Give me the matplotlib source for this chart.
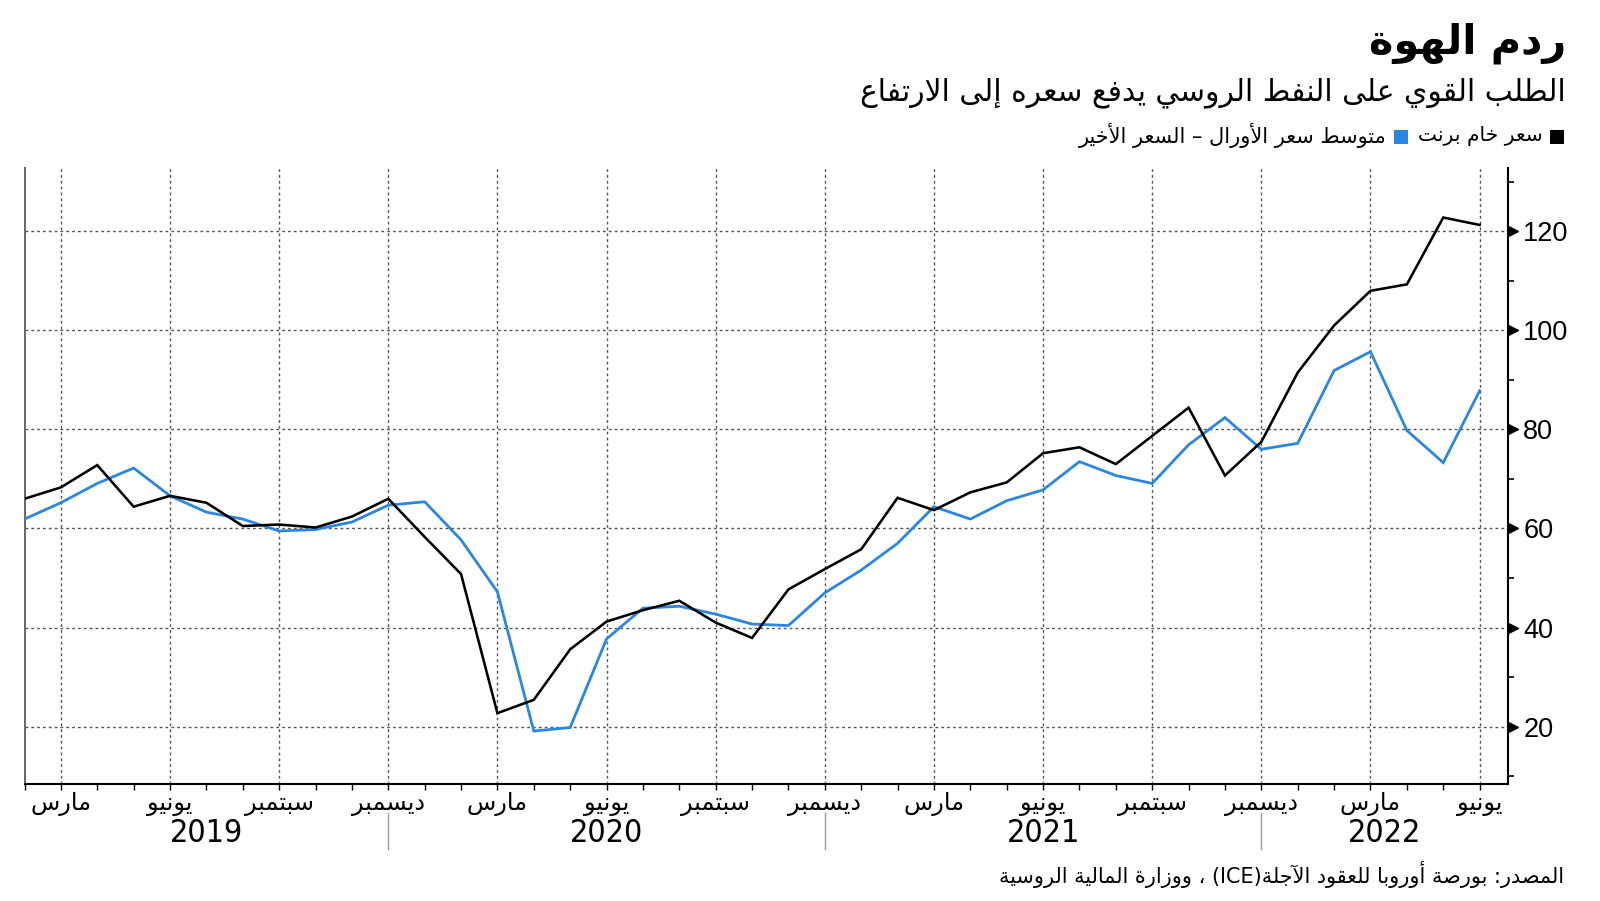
import numpy as np
import pandas as pd
import matplotlib
matplotlib.use("Agg")
import matplotlib.pyplot as plt
import matplotlib.transforms as mtransforms
from matplotlib.patches import Rectangle
from matplotlib.lines import Line2D
from matplotlib import font_manager as fm

# ---------------- data ----------------
start_month = "2019-02-01"
brent = [66.0, 68.3, 72.8, 64.4, 66.6, 65.2, 60.5, 60.8, 60.2, 62.4, 66.0,
         58.3, 50.8, 22.7, 25.4, 35.6, 41.2, 43.5, 45.4, 41.0, 37.9, 47.7, 51.8,
         55.8, 66.2, 63.7, 67.3, 69.3, 75.2, 76.4, 73.0, 78.7, 84.4, 70.7, 77.5,
         91.5, 101.0, 108.0, 109.3, 122.8, 121.3]
urals = [61.9, 65.2, 69.1, 72.2, 66.6, 63.3, 61.9, 59.5, 59.8, 61.3, 64.7,
         65.4, 57.7, 47.2, 19.1, 19.8, 37.7, 43.9, 44.3, 42.7, 40.7, 40.4, 47.0,
         51.6, 57.0, 64.4, 61.9, 65.6, 67.8, 73.5, 70.7, 69.1, 76.9, 82.4, 76.0,
         77.2, 91.9, 95.7, 79.8, 73.3, 87.8]
series_names = ["سعر خام برنت", "متوسط سعر الأورال – السعر الأخير"]
title_text = "ردم الهوة"
subtitle_text = "الطلب القوي على النفط الروسي يدفع سعره إلى الارتفاع"
source_text = "المصدر: بورصة أوروبا للعقود الآجلة(ICE) ، ووزارة المالية الروسية"
month_names = {3: "مارس", 6: "يونيو", 9: "سبتمبر", 12: "ديسمبر"}
y_major = [20, 40, 60, 80, 100, 120]
y_minor = [10, 30, 50, 70, 90, 110, 130]

BLACK = "#000000"
BLUE = "#2a86e0"
GRID = "#555555"

months = pd.date_range(start_month, periods=len(brent), freq="MS")

# ---------------- minimal Arabic shaping ----------------
DUAL = {'ئ': 0xFE89, 'ب': 0xFE8F, 'ت': 0xFE95, 'ث': 0xFE99, 'ج': 0xFE9D, 'ح': 0xFEA1,
        'خ': 0xFEA5, 'س': 0xFEB1, 'ش': 0xFEB5, 'ص': 0xFEB9, 'ض': 0xFEBD, 'ط': 0xFEC1,
        'ظ': 0xFEC5, 'ع': 0xFEC9, 'غ': 0xFECD, 'ف': 0xFED1, 'ق': 0xFED5, 'ك': 0xFED9,
        'ل': 0xFEDD, 'م': 0xFEE1, 'ن': 0xFEE5, 'ه': 0xFEE9, 'ي': 0xFEF1}
RIGHT = {'آ': 0xFE81, 'أ': 0xFE83, 'ؤ': 0xFE85, 'إ': 0xFE87, 'ا': 0xFE8D, 'ة': 0xFE93,
         'د': 0xFEA9, 'ذ': 0xFEAB, 'ر': 0xFEAD, 'ز': 0xFEAF, 'و': 0xFEED, 'ى': 0xFEEF}
LAMALEF = {'آ': 0xFEF5, 'أ': 0xFEF7, 'إ': 0xFEF9, 'ا': 0xFEFB}


def shape(s):
    toks = []
    i = 0
    while i < len(s):
        c = s[i]
        if c == 'ل' and i + 1 < len(s) and s[i + 1] in LAMALEF:
            toks.append(('R', LAMALEF[s[i + 1]]))
            i += 2
            continue
        if c in DUAL:
            toks.append(('D', DUAL[c]))
        elif c in RIGHT:
            toks.append(('R', RIGHT[c]))
        elif c == 'ء':
            toks.append(('N', 0xFE80))
        else:
            toks.append(('X', c))
        i += 1
    out = []
    for k, (t, v) in enumerate(toks):
        if t == 'X':
            out.append(v)
            continue
        if t == 'N':
            out.append(chr(v))
            continue
        prev = toks[k - 1][0] if k > 0 else 'X'
        nxt = toks[k + 1][0] if k + 1 < len(toks) else 'X'
        jp = prev == 'D'
        jn = (t == 'D') and nxt in ('D', 'R')
        if t == 'R':
            out.append(chr(v + 1 if jp else v))
        else:
            out.append(chr(v + (3 if (jp and jn) else 1 if jp else 2 if jn else 0)))
    return out


def rtl(s):
    chars = shape(s)
    runs = []
    for ch in chars:
        ltr = ch.isascii() and (ch.isalnum() or ch in "()")
        if runs and runs[-1][0] == ltr:
            runs[-1][1].append(ch)
        else:
            runs.append([ltr, [ch]])
    vis = []
    for ltr, cs in reversed(runs):
        vis.extend(cs if ltr else reversed(cs))
    return "".join(vis)


AR = ["DejaVu Sans"]
NUM = ["Liberation Sans", "DejaVu Sans"]

# pick a narrow face for the year labels if one is installed
year_kw = dict(fontfamily=["Liberation Sans", "DejaVu Sans"], fontsize=22)
found = False
try:
    p = fm.findfont(fm.FontProperties(family="Liberation Sans Narrow"), fallback_to_default=False)
    if "Narrow" in p:
        year_kw = dict(fontfamily=["Liberation Sans Narrow", "DejaVu Sans"], fontsize=25)
        found = True
except Exception:
    pass
if not found:
    try:
        p = fm.findfont(fm.FontProperties(family="DejaVu Sans", stretch="condensed"),
                        fallback_to_default=False)
        if "Condensed" in p:
            year_kw = dict(fontfamily=["DejaVu Sans"], fontstretch="condensed", fontsize=23)
    except Exception:
        pass

# ---------------- figure ----------------
W, H = 1600, 901
fig = plt.figure(figsize=(W / 100, H / 100), dpi=100)
fig.patch.set_facecolor("white")
ax_l, ax_r, ax_t, ax_b = 24.5, 1508.0, 168.0, 784.0
ax = fig.add_axes([ax_l / W, 1 - ax_b / H, (ax_r - ax_l) / W, (ax_b - ax_t) / H])

x = np.arange(len(months))
ax.plot(x, urals, color=BLUE, lw=2.0, zorder=3, solid_joinstyle="miter")
ax.plot(x, brent, color=BLACK, lw=1.85, zorder=4, solid_joinstyle="miter")

ax.set_xlim(0, 40.78)
ax.set_ylim(8.4, 132.8)

quarter_idx = [i for i, m in enumerate(months) if m.month in month_names]
for q in quarter_idx:
    ax.axvline(q, color=GRID, lw=1.0, ls=(0, (2, 2.2)), zorder=1)
for yv in y_major:
    ax.axhline(yv, color=GRID, lw=1.0, ls=(0, (2, 2.2)), zorder=1)

ax.spines["top"].set_visible(False)
ax.spines["left"].set_color("#666666")
ax.spines["left"].set_linewidth(1.4)
ax.spines["bottom"].set_linewidth(1.5)
ax.spines["right"].set_linewidth(1.5)

ax.set_xticks(quarter_idx)
ax.set_xticks(x, minor=True)
ax.set_xticklabels([])
ax.tick_params(axis="x", which="both", direction="out", length=4, width=1.0,
               bottom=True, top=False, labelbottom=False)

ax.yaxis.tick_right()
ax.set_yticks(y_major)
ax.set_yticks(y_minor, minor=True)
ax.set_yticklabels([str(v) for v in y_major], fontfamily=NUM, fontsize=19.5)
ax.tick_params(axis="y", which="major", length=0, pad=11, left=False, right=True)
ax.tick_params(axis="y", which="minor", length=4, width=1.2, left=False, right=True)

tri_trans = ax.get_yaxis_transform() + mtransforms.ScaledTranslation(4.5 / 100, 0, fig.dpi_scale_trans)
ax.plot([1] * len(y_major), y_major, ls="none", marker=">", ms=7, color=BLACK,
        transform=tri_trans, clip_on=False, zorder=5)

# month labels
lab_trans = mtransforms.blended_transform_factory(ax.transData, fig.transFigure)
mlabels = []
for q in quarter_idx:
    t = fig.text(q, 1 - 804 / H, rtl(month_names[months[q].month]), fontfamily=AR,
                 fontsize=15, ha="center", va="center", transform=lab_trans)
    mlabels.append(t)

# year separators and labels
dec_idx = [i for i, m in enumerate(months) if m.month == 12]
for d in dec_idx:
    fig.add_artist(Line2D([d, d], [1 - 813 / H, 1 - 849 / H], transform=lab_trans,
                          color="#999999", lw=1.0))
bounds = [0] + dec_idx + [ax.get_xlim()[1]]
years = sorted(set(m.year for m in months))
for k, yr in enumerate(years):
    cx = (bounds[k] + bounds[k + 1]) / 2
    fig.text(cx, 1 - 834 / H, str(yr), ha="center", va="center",
             transform=lab_trans, **year_kw)

# ---------------- header texts ----------------
def fx(px):
    return px / W


def fy(py):
    return 1 - py / H


title = fig.text(fx(1566), fy(43), rtl(title_text), fontfamily=AR, fontweight="bold",
                 fontsize=28, ha="right", va="center")
subtitle = fig.text(fx(1566), fy(93), rtl(subtitle_text), fontfamily=AR,
                    fontsize=22, ha="right", va="center")
leg1 = fig.text(fx(1543), fy(136), rtl(series_names[0]), fontfamily=AR,
                fontsize=15, ha="right", va="center")
leg2 = fig.text(fx(1387), fy(136), rtl(series_names[1]), fontfamily=AR,
                fontsize=15, ha="right", va="center")
src = fig.text(fx(1564), fy(874), rtl(source_text), fontfamily=AR,
               fontsize=14, ha="right", va="center")

fig.add_artist(Rectangle((fx(1550), fy(144)), 14 / W, 14 / H, transform=fig.transFigure,
                         facecolor=BLACK, edgecolor="none"))
fig.add_artist(Rectangle((fx(1394), fy(144)), 14 / W, 14 / H, transform=fig.transFigure,
                         facecolor=BLUE, edgecolor="none"))

renderer = fig.canvas.get_renderer()


def fit(t, target, boost=1.0):
    w = t.get_window_extent(renderer).width
    t.set_fontsize(t.get_fontsize() * target / w * boost)


fit(title, 186, 1.06)
fit(subtitle, 706)
fit(leg1, 125)
fit(leg2, 308)
fit(src, 569)
sep_lab = [t for t, q in zip(mlabels, quarter_idx) if months[q].month == 9][0]
w = sep_lab.get_window_extent(renderer).width
fs = 15 * 69 / w
for t in mlabels:
    t.set_fontsize(fs)

fig.savefig("out.png", dpi=100, facecolor="white")
